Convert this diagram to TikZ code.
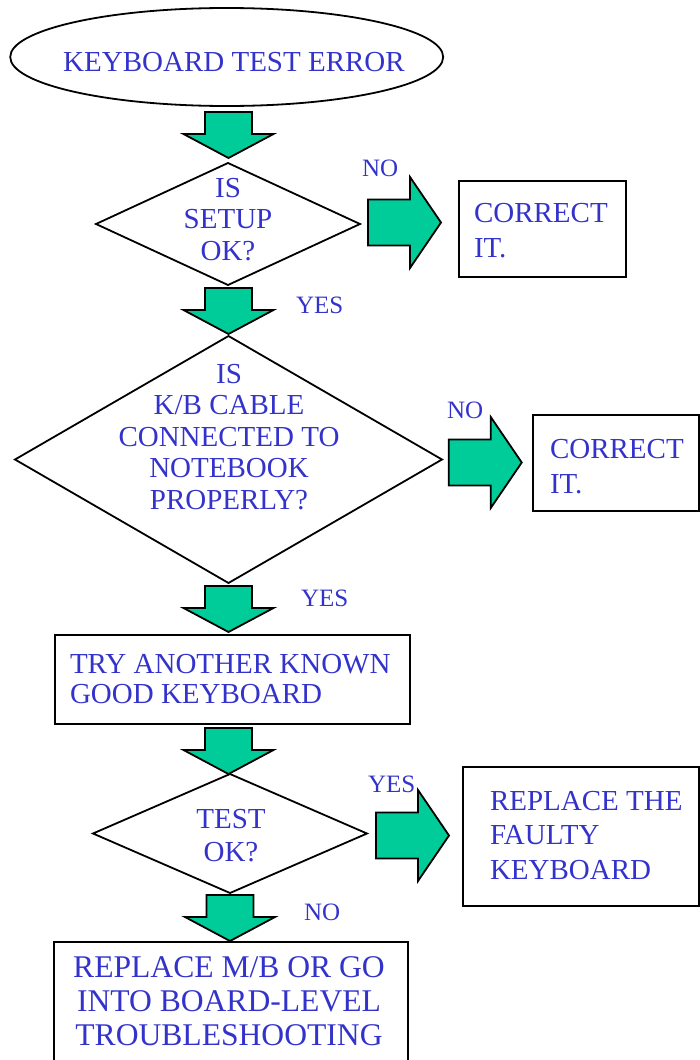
\documentclass[tikz,border=0pt]{standalone}
\usepackage{fontspec}
\setmainfont{Liberation Serif}
\usetikzlibrary{shapes.geometric,calc}
\definecolor{txtblue}{HTML}{3333CC}
\definecolor{arrgreen}{HTML}{00CC99}
\newcommand\txtlines[4][29]{\fontsize{#1}{#2}\selectfont\begin{tabular}[t]{@{}#3@{}}#4\end{tabular}}
\tikzset{
  outline/.style={draw=black,line width=1.8pt,inner sep=0pt,outer sep=0pt},
  startshape/.style={outline,ellipse},
  decision/.style={outline,diamond},
  stepbox/.style={outline,rectangle},
  maintext/.style={text=txtblue,inner sep=0pt,outer sep=0pt,font=\fontsize{29}{31.5}\selectfont},
  lbl/.style={text=txtblue,inner sep=0pt,outer sep=0pt,font=\fontsize{25}{28}\selectfont,anchor=base west},
  blockarrow/.style={fill=arrgreen,draw=black,line width=1.8pt,line join=miter},
  pics/darrow/.style={code={
    \path[blockarrow] (-23.5,0) -- (23.5,0) -- (23.5,22) -- (45,22) -- (0,46) -- (-45,22) -- (-23.5,22) -- cycle;}},
  pics/rarrow/.style={code={
    \path[blockarrow] (0,-23) -- (42,-23) -- (42,-45.5) -- (73,0) -- (42,45.5) -- (42,23) -- (0,23) -- cycle;}}
}
\begin{document}
\begin{tikzpicture}[x=1pt,y=-1pt]
\useasboundingbox (0,0) rectangle (700,1060);
\clip (0,0) rectangle (700,1060);
% shapes
\node[startshape,minimum width=433pt,minimum height=98pt] (start) at (226.7,57) {};
\node[decision,minimum width=264pt,minimum height=122pt] (d1) at (228,224) {};
\node[decision,minimum width=427pt,minimum height=247pt] (d2) at (228.5,459.5) {};
\node[decision,minimum width=274pt,minimum height=119pt] (d3) at (230,833.5) {};
\node[stepbox,minimum width=167pt,minimum height=96pt] (c1) at (542.5,229) {};
\node[stepbox,minimum width=166pt,minimum height=96pt] (c2) at (616,463) {};
\node[stepbox,minimum width=355pt,minimum height=89pt] (try) at (232.5,679.5) {};
\node[stepbox,minimum width=236pt,minimum height=139pt] (rep) at (581,836.5) {};
\node[stepbox,minimum width=354pt,minimum height=130pt] (mb) at (231,1007) {};
% texts
\node[maintext,anchor=base] (tstart) at (234,71) {KEYBOARD TEST ERROR};
\node[maintext,anchor=base] (td1) at (228,197) {\txtlines{31.5}{c}{IS\\SETUP\\OK?}};
\node[maintext,anchor=base] (td2) at (229,383) {\txtlines{31.5}{c}{IS\\K/B CABLE\\CONNECTED TO\\NOTEBOOK\\PROPERLY?}};
\node[maintext,anchor=base] (td3) at (231,828) {\txtlines{33}{c}{TEST\\OK?}};
\node[maintext,anchor=base west] (tc1) at (474,222) {\txtlines{35}{l}{CORRECT\\IT.}};
\node[maintext,anchor=base west] (tc2) at (550,458) {\txtlines{35}{l}{CORRECT\\IT.}};
\node[maintext,anchor=base west] (ttry) at (70,673) {\txtlines{30}{l}{TRY ANOTHER KNOWN\\GOOD KEYBOARD}};
\node[maintext,anchor=base west] (trep) at (490,810) {\txtlines{34.5}{l}{REPLACE THE\\FAULTY\\KEYBOARD}};
\node[maintext,anchor=base] (tmb) at (229,977) {\txtlines[31.6]{34}{c}{REPLACE M/B OR GO\\INTO BOARD-LEVEL\\TROUBLESHOOTING}};
% labels
\node[lbl] (no1) at (362,176) {NO};
\node[lbl] (yes1) at (296,313) {YES};
\node[lbl] (no2) at (447,418) {NO};
\node[lbl] (yes2) at (301,606) {YES};
\node[lbl] (yes3) at (368,792) {YES};
\node[lbl] (no3) at (304,920) {NO};
% block arrows (connectors)
\pic at ($(start.south)+(1.8,6)$) {darrow};
\pic at ($(d1.south)+(0.5,3)$) {darrow};
\pic at ($(d2.south)+(0,3)$) {darrow};
\pic at ($(try.south)+(-4,4)$) {darrow};
\pic at ($(d3.south)+(0,2)$) {darrow};
\pic at ($(d1.east)+(8,-1.5)$) {rarrow};
\pic at ($(d2.east)+(6.75,3)$) {rarrow};
\pic at ($(d3.east)+(9,2)$) {rarrow};
\end{tikzpicture}
\end{document}
